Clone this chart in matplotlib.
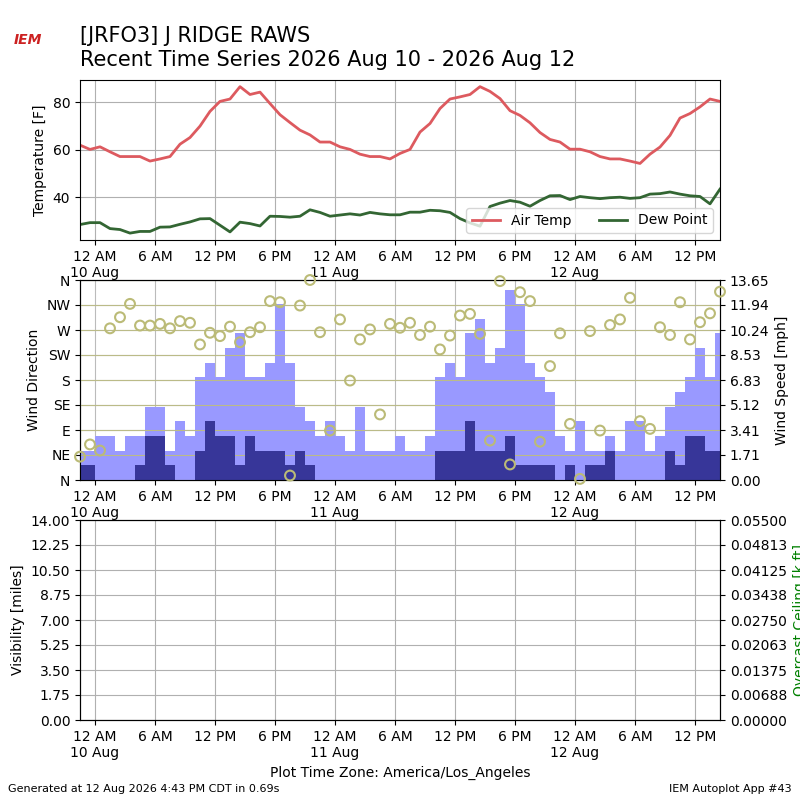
import matplotlib
matplotlib.use('Agg')
import matplotlib.pyplot as plt
import numpy as np

# hours since 12 AM 10 Aug (observations at half past each hour)
hours = np.arange(65) - 1.5

temp = [61.9, 60.1, 61.2, 59.1, 57.1, 57.1, 57.1, 55.2, 56.1, 57.1, 62.3, 65.1, 69.9,
        76.1, 80.3, 81.3, 86.5, 83.2, 84.2, 79.4, 74.7, 71.4, 68.2, 66.2, 63.2, 63.2,
        61.2, 60.1, 58.1, 57.1, 57.1, 56.1, 58.4, 60.1, 67.4, 71.0, 77.3, 81.3, 82.2,
        83.2, 86.5, 84.5, 81.5, 76.4, 74.4, 71.3, 67.2, 64.3, 63.2, 60.2, 60.2, 59.1,
        57.1, 56.1, 56.1, 55.2, 54.2, 58.1, 61.1, 66.0, 73.3, 75.2, 78.0, 81.3, 80.3]
dewp = [28.5, 29.3, 29.3, 26.8, 26.4, 24.9, 25.6, 25.6, 27.4, 27.5, 28.6, 29.6, 30.9,
        31.0, 28.2, 25.4, 29.5, 28.9, 27.9, 32.0, 31.9, 31.6, 32.0, 34.7, 33.6, 32.0,
        32.5, 33.0, 32.5, 33.6, 33.0, 32.6, 32.6, 33.7, 33.7, 34.5, 34.3, 33.6, 31.0,
        29.2, 27.8, 36.1, 37.5, 38.6, 37.9, 36.2, 38.6, 40.6, 40.7, 39.0, 40.3, 39.8,
        39.4, 39.8, 40.0, 39.5, 39.8, 41.3, 41.5, 42.2, 41.3, 40.6, 40.3, 37.2, 43.4]
gust = [2, 2, 3, 3, 2, 3, 3, 5, 5, 2, 4, 3, 7, 8, 7, 9, 10, 7, 7, 8, 12, 8, 5, 4, 3, 4,
        3, 2, 5, 2, 2, 2, 3, 2, 2, 3, 7, 8, 7, 10, 11, 8, 9, 13, 12, 8, 7, 6, 3, 2, 4, 2,
        2, 3, 2, 4, 4, 2, 3, 5, 6, 7, 9, 7, 10]
sknt = [1, 1, 0, 0, 0, 0, 1, 3, 3, 1, 0, 0, 2, 4, 3, 3, 1, 3, 2, 2, 2, 1, 2, 1, 0, 0,
        0, 0, 0, 0, 0, 0, 0, 0, 0, 0, 2, 2, 2, 4, 2, 2, 2, 3, 1, 1, 1, 1, 0, 1, 0, 1,
        1, 2, 0, 0, 0, 0, 0, 2, 1, 3, 3, 2, 2]
drct = [42, 64, 53, 273, 293, 317, 278, 278, 281, 273, 286, 283, 244, 265, 259, 276,
        248, 266, 275, 322, 320, 8, 314, 360, 266, 89, 289, 179, 253, 271, 118, 281,
        274, 283, 261, 276, 235, 260, 296, 299, 263, 71, 358, 28, 338, 322, 69, 205,
        264, 101, 2, 268, 89, 279, 289, 328, 106, 92, 275, 261, 320, 253, 284, 300, 339]

tick_pos = np.arange(0, 61, 6)
tick_lbl = ['12 AM\n10 Aug', '6 AM', '12 PM', '6 PM', '12 AM\n11 Aug', '6 AM', '12 PM',
            '6 PM', '12 AM\n12 Aug', '6 AM', '12 PM']

fig = plt.figure(figsize=(8, 8), dpi=100)
ax1 = fig.add_axes([0.1, 0.7, 0.8, 0.2])
ax2 = fig.add_axes([0.1, 0.4, 0.8, 0.25])
ax3 = fig.add_axes([0.1, 0.1, 0.8, 0.25])

for ax in (ax1, ax2, ax3):
    ax.set_xlim(-1.5, 62.5)
    ax.set_xticks(tick_pos)
    ax.set_xticklabels(tick_lbl)

ax1.plot(hours, temp, color='#dd5a5f', lw=2, label='Air Temp')
ax1.plot(hours, dewp, color='#336633', lw=2, label='Dew Point')
ax1.set_ylim(22, 89.3)
ax1.set_ylabel('Temperature [F]')
ax1.grid(True)
ax1.legend(loc='lower right', ncol=2)

ax2.grid(True, color='#bbbbbb')
ax2b = ax2.twinx()
ax2b.bar(hours, gust, width=1.0, color='#9999ff', zorder=1)
ax2b.bar(hours, sknt, width=1.0, color='#373699', zorder=2)
ax2b.set_ylim(0, 13.65)
ax2b.set_yticks(np.linspace(0, 13.65, 9))
ax2b.set_yticklabels(['%.2f' % v for v in np.linspace(0, 13.65, 9)])
ax2b.set_ylabel('Wind Speed [mph]')
ax2b.grid(True, color='#bbbb88', axis='y')
ax2b.scatter(hours, drct, s=50, facecolors='none', edgecolors='#bbbb77', lw=1.5,
             zorder=5, transform=ax2.transData, clip_on=False)
ax2.set_zorder(ax2b.get_zorder() - 1)
ax2b.patch.set_visible(False)
ax2.set_ylim(0, 360)
ax2.set_yticks(np.arange(0, 361, 45))
ax2.set_yticklabels(['N', 'NE', 'E', 'SE', 'S', 'SW', 'W', 'NW', 'N'])
ax2.set_ylabel('Wind Direction')

ax3.set_ylim(0, 14)
ax3.set_yticks(np.linspace(0, 14, 9))
ax3.set_yticklabels(['%.2f' % v for v in np.linspace(0, 14, 9)])
ax3.set_ylabel('Visibility [miles]')
ax3.grid(True)
ax3b = ax3.twinx()
ax3b.set_ylim(0, 0.055)
ax3b.set_yticks(np.linspace(0, 0.055, 9))
ax3b.set_yticklabels(['%.5f' % v for v in np.linspace(0, 0.055, 9)])
ax3b.set_ylabel('Overcast Ceiling [k ft]', color='green')
ax3.set_xlabel('Plot Time Zone: America/Los_Angeles')

fig.text(0.1, 0.955, '[JRFO3] J RIDGE RAWS', fontsize=15, va='center')
fig.text(0.1, 0.925, 'Recent Time Series 2026 Aug 10 - 2026 Aug 12', fontsize=15, va='center')
fig.text(0.035, 0.95, 'IEM', color='#cc2222', fontsize=10, style='italic',
         ha='center', va='center', fontweight='bold')
fig.text(0.01, 0.01, 'Generated at 12 Aug 2026 4:43 PM CDT in 0.69s', fontsize=8)
fig.text(0.99, 0.01, 'IEM Autoplot App #43', fontsize=8, ha='right')

fig.savefig('out.png')
